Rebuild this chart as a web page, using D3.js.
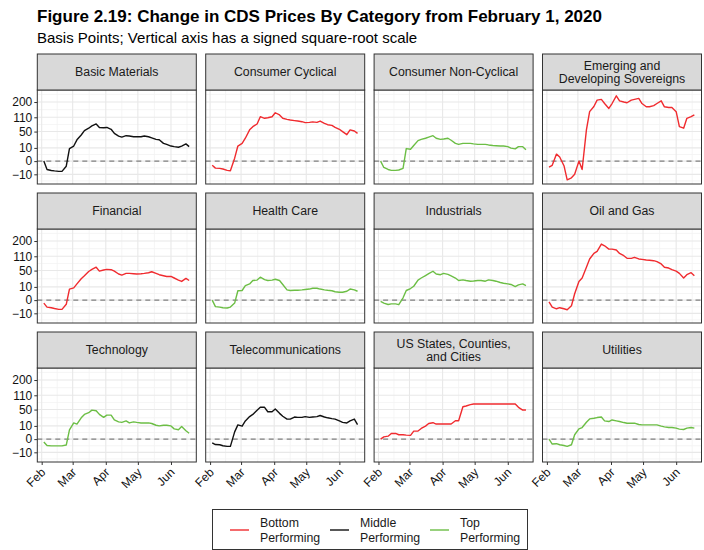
<!DOCTYPE html>
<html>
<head>
<meta charset="utf-8">
<script src="https://cdn.jsdelivr.net/npm/d3@7"></script>
<style>
  body { margin: 0; background: #fff; }
  svg { display: block; font-family: "Liberation Sans", Arial, sans-serif; }
</style>
</head>
<body>
<div id="chart"></div>
<script>
// CDS price change by category, small multiples on a signed sqrt scale.

const categories = [
  'Basic Materials', 'Consumer Cyclical', 'Consumer Non-Cyclical', 'Emerging and\nDeveloping Sovereigns',
  'Financial', 'Health Care', 'Industrials', 'Oil and Gas',
  'Technology', 'Telecommunications', 'US States, Counties,\nand Cities', 'Utilities'
];
const performance = [
  'Middle', 'Bottom', 'Top', 'Bottom',
  'Bottom', 'Top', 'Top', 'Bottom',
  'Top', 'Middle', 'Bottom', 'Top'
];

const dates = [
  '2020-02-03', '2020-02-06', '2020-02-10', '2020-02-13', '2020-02-17', '2020-02-20', '2020-02-24', '2020-02-27',
  '2020-03-02', '2020-03-05', '2020-03-09', '2020-03-12', '2020-03-16', '2020-03-19', '2020-03-23', '2020-03-26', '2020-03-30',
  '2020-04-02', '2020-04-06', '2020-04-09', '2020-04-13', '2020-04-16', '2020-04-20', '2020-04-23', '2020-04-27', '2020-04-30',
  '2020-05-04', '2020-05-07', '2020-05-11', '2020-05-14', '2020-05-18', '2020-05-21', '2020-05-25', '2020-05-28',
  '2020-06-01', '2020-06-04', '2020-06-08', '2020-06-11', '2020-06-15', '2020-06-18'
];

// basis points change since Feb 1
const basicMaterials = [0, -4, -5, -5.5, -6, -6, -1.5, 9, 13, 26, 39, 53, 62, 71, 79, 65, 64, 65, 58, 44, 36, 33, 37, 36, 34, 34, 34, 36, 34, 31, 27, 26, 18, 16, 13, 12, 11, 13, 17, 12];
const consumerCyclical = [-1, -2.8, -3, -3.6, -4.9, -5.3, 0.5, 13, 18, 30, 56, 68, 79, 113, 105, 108, 113, 134, 122, 105, 100, 97, 94, 92, 89, 85, 86, 88, 86, 92, 82, 76, 73, 65, 58, 50, 40, 56, 52, 44];
const consumerNonCyclical = [0, -2.3, -4, -4.9, -4.9, -4.5, -3, 9, 8, 14, 24, 27, 30, 33, 37, 30, 27, 28, 30, 25, 18, 16, 18, 18, 18, 17, 16, 16, 16, 15, 14, 13.5, 13, 13, 12, 9.6, 8.6, 12, 12, 7.5];
const emergingSovereigns = [-2, -1, 2.8, 1, -1.2, -20, -16, -10, 0, -4, 56, 140, 171, 213, 218, 190, 159, 190, 244, 208, 200, 195, 213, 218, 225, 190, 169, 169, 176, 190, 208, 169, 165, 165, 140, 68, 62, 105, 113, 122];
const financial = [-0.5, -2.8, -3.3, -4, -4.9, -4.9, -1, 7, 8.5, 15, 26, 34, 47, 54, 62, 48, 52, 54, 53, 48, 39, 36, 41, 41, 40, 39, 40, 41, 43, 46, 41, 37, 34, 32, 32, 28, 23, 20, 27, 22];
const healthCare = [0, -2.4, -2.8, -3.3, -3.6, -2.8, -0.5, 5, 5.3, 12, 15, 22, 23, 30, 24, 22, 23, 25, 22, 14, 6, 5.3, 5.5, 5.5, 6, 6.5, 7, 8, 8, 7, 6, 5.5, 5, 4, 3.5, 3.5, 4.5, 7, 6, 4.5];
const industrials = [-0.1, -0.5, -1.1, -0.8, -0.8, -1.2, 0.3, 5.3, 7.7, 11, 23, 28, 34.5, 40, 47.7, 39, 37, 41, 38, 33.6, 28, 22, 23.4, 22, 20.5, 21, 22, 22, 20.5, 23.4, 22, 20.5, 17.7, 16.4, 15, 14, 10.6, 13.3, 15, 12.2];
const oilAndGas = [-0.2, -2.8, -4.3, -3.3, -4.3, -5.3, -1.8, 2.3, 20, 28, 62, 97, 125, 136, 180, 169, 149, 149, 144, 125, 113, 100, 100, 105, 97, 95, 92, 91, 89, 85, 75, 62, 59, 53, 48, 41, 28, 37, 43, 34];
const technology = [-0.5, -2.3, -2.6, -2.6, -2.6, -2.6, -2, 5, 15, 13, 26, 35, 40, 48, 46, 35, 27, 33, 33, 21, 17, 16, 19, 15, 17, 16, 15, 15, 15, 14, 11, 10, 11, 11, 10, 6, 5, 9, 4, 2];
const telecommunications = [-0.8, -1.7, -1.8, -2.5, -3, -3, 3, 11.6, 9.6, 19, 29, 35, 48, 58, 58, 43, 43, 52, 38, 30, 23, 23, 28, 27, 27, 29, 27, 28, 29, 32, 28, 26, 24, 23, 19, 16, 15, 19, 23, 12];
const usStates = [0, 0.3, 0.5, 1.85, 1.85, 1.1, 1.1, 0.9, 0.8, 3.7, 3.7, 6.5, 9.7, 14, 15.4, 13, 13, 13, 13, 13, 19.4, 19.4, 60, 62.7, 68, 70.6, 70.6, 70.6, 70.6, 70.6, 70.6, 70.6, 70.6, 70.6, 70.6, 70.6, 70.6, 58, 48.4, 48.4];
const utilities = [0, -1.4, -1.2, -1.8, -2.3, -3, -1.8, 1.1, 6, 7.7, 16.4, 23.4, 25, 26.6, 28, 19, 17.7, 21, 19, 17.7, 15.7, 14.5, 14.5, 14.5, 12.2, 11.6, 11.6, 11.6, 11.6, 11.6, 9.6, 8.6, 7.7, 7.7, 6.9, 5.7, 5.3, 6.9, 7.7, 6.9];

const seriesValues = [
  basicMaterials, consumerCyclical, consumerNonCyclical, emergingSovereigns,
  financial, healthCare, industrials, oilAndGas,
  technology, telecommunications, usStates, utilities
];

const yTicks = [-10, 0, 10, 50, 110, 200];
const monthTicks = ['2020-02-01', '2020-03-01', '2020-04-01', '2020-05-01', '2020-06-01', '2020-07-01'];
const legendGroups = ['Bottom', 'Middle', 'Top'];
const legendLabels = ['Bottom\nPerforming', 'Middle\nPerforming', 'Top\nPerforming'];
const groupColor = { Bottom: '#f02b2f', Middle: '#111111', Top: '#6cbe45' };

// layout
const W = 704, H = 550;
const PLOT_LEFT = 37.3, COL_STEP = 168.4, PW = 159;
const STRIP_TOP = 54, ROW_STEP = 139, STRIP_H = 36, PH = 94;
const NCOL = 4;

const svg = d3.select('#chart').append('svg').attr('width', W).attr('height', H);

svg.append('text')
  .attr('x', 37).attr('y', 22)
  .attr('font-size', 17).attr('font-weight', 'bold').attr('fill', '#000')
  .text('Figure 2.19: Change in CDS Prices By Category from February 1, 2020');
svg.append('text')
  .attr('x', 37).attr('y', 43)
  .attr('font-size', 15).attr('fill', '#000')
  .text('Basis Points; Vertical axis has a signed square-root scale');

const parse = d3.utcParse('%Y-%m-%d');
const DAY = 864e5;
const feb1 = parse('2020-02-01');
const dateVals = dates.map(parse);
const months = monthTicks.map(parse);

const x = d3.scaleUtc()
  .domain([new Date(+feb1 - 4.1 * DAY), new Date(+feb1 + 144.7 * DAY)])
  .range([0, PW]);
// d3's sqrt scale is sign-preserving, which is exactly the signed sqrt transform
const y = d3.scaleSqrt().domain([-30.0, 289.7]).range([PH, 0]);

// minor breaks: midway between majors in transformed space (ggplot style)
const ssqrt = v => Math.sign(v) * Math.sqrt(Math.abs(v));
const unsq = t => Math.sign(t) * t * t;
const tMaj = yTicks.map(ssqrt);
const tExt = [tMaj[0] - (tMaj[1] - tMaj[0]), ...tMaj, tMaj[tMaj.length - 1] + (tMaj[tMaj.length - 1] - tMaj[tMaj.length - 2])];
const yMinor = d3.pairs(tExt).map(([a, b]) => unsq((a + b) / 2))
  .filter(v => y(v) >= 0 && y(v) <= PH);
const xMinor = d3.pairs(months).map(([a, b]) => new Date((+a + +b) / 2))
  .filter(d => x(d) >= 0 && x(d) <= PW);
const xMajor = months.filter(d => x(d) >= 0 && x(d) <= PW);

const line = d3.line().x(d => x(d.date)).y(d => y(d.v));

categories.forEach((cat, i) => {
  const col = i % NCOL, row = Math.floor(i / NCOL);
  const px = PLOT_LEFT + col * COL_STEP;
  const sy = STRIP_TOP + row * ROW_STEP;
  const py = sy + STRIP_H;
  const g = svg.append('g').attr('transform', `translate(${px},${py})`);

  g.append('rect').attr('width', PW).attr('height', PH).attr('fill', '#fff');

  g.selectAll('line.minor-y').data(yMinor).join('line')
    .attr('x1', 0).attr('x2', PW).attr('y1', d => y(d)).attr('y2', d => y(d))
    .attr('stroke', '#f2f2f2').attr('stroke-width', 0.8);
  g.selectAll('line.minor-x').data(xMinor).join('line')
    .attr('y1', 0).attr('y2', PH).attr('x1', d => x(d)).attr('x2', d => x(d))
    .attr('stroke', '#f2f2f2').attr('stroke-width', 0.8);
  g.append('g').selectAll('line').data(yTicks).join('line')
    .attr('x1', 0).attr('x2', PW).attr('y1', d => y(d)).attr('y2', d => y(d))
    .attr('stroke', '#e8e8e8').attr('stroke-width', 1.1);
  g.append('g').selectAll('line').data(xMajor).join('line')
    .attr('y1', 0).attr('y2', PH).attr('x1', d => x(d)).attr('x2', d => x(d))
    .attr('stroke', '#e8e8e8').attr('stroke-width', 1.1);

  g.append('line')
    .attr('x1', 0).attr('x2', PW).attr('y1', y(0)).attr('y2', y(0))
    .attr('stroke', '#808080').attr('stroke-width', 1.1).attr('stroke-dasharray', '5 4');

  const pts = seriesValues[i].map((v, k) => ({ date: dateVals[k], v }));
  g.append('path')
    .attr('d', line(pts))
    .attr('fill', 'none')
    .attr('stroke', groupColor[performance[i]])
    .attr('stroke-width', 1.4)
    .attr('stroke-linejoin', 'round');

  g.append('rect').attr('width', PW).attr('height', PH)
    .attr('fill', 'none').attr('stroke', '#333').attr('stroke-width', 1);

  // strip
  const strip = svg.append('g').attr('transform', `translate(${px},${sy})`);
  strip.append('rect').attr('width', PW).attr('height', STRIP_H)
    .attr('fill', '#d9d9d9').attr('stroke', '#333').attr('stroke-width', 1);
  const lines = cat.split('\n');
  const st = strip.append('text')
    .attr('text-anchor', 'middle').attr('font-size', 12.3).attr('fill', '#1a1a1a');
  lines.forEach((l, k) => {
    st.append('tspan')
      .attr('x', PW / 2)
      .attr('y', STRIP_H / 2 + 4.3 + (k - (lines.length - 1) / 2) * 12.5)
      .text(l);
  });

  if (col === 0) {
    const ya = g.append('g').call(d3.axisLeft(y).tickValues(yTicks).tickSize(3).tickPadding(2));
    ya.select('.domain').remove();
    ya.selectAll('line').attr('stroke', '#333');
    ya.selectAll('text').attr('font-size', 12).attr('fill', '#111')
      .attr('font-family', '"Liberation Sans", Arial, sans-serif');
  }
  if (row === 2) {
    const xa = g.append('g').attr('transform', `translate(0,${PH})`)
      .call(d3.axisBottom(x).tickValues(xMajor).tickFormat(d3.utcFormat('%b')).tickSize(3));
    xa.select('.domain').remove();
    xa.selectAll('line').attr('stroke', '#333');
    xa.selectAll('text')
      .attr('font-size', 12).attr('fill', '#111')
      .attr('font-family', '"Liberation Sans", Arial, sans-serif')
      .attr('x', 0).attr('y', 0).attr('dy', '0.71em')
      .attr('text-anchor', 'end')
      .attr('transform', 'translate(-2,5) rotate(-45)');
  }
});

// legend
const lg = svg.append('g');
lg.append('rect').attr('x', 212.5).attr('y', 509.5).attr('width', 315).attr('height', 40)
  .attr('fill', '#fff').attr('stroke', '#333').attr('stroke-width', 1);
legendGroups.forEach((grp, k) => {
  const kx = 230 + k * 100;
  lg.append('line').attr('x1', kx).attr('x2', kx + 19).attr('y1', 530).attr('y2', 530)
    .attr('stroke', groupColor[grp]).attr('stroke-width', 1.4);
  const t = lg.append('text').attr('font-size', 12.3).attr('fill', '#1a1a1a');
  legendLabels[k].split('\n').forEach((l, j) => {
    t.append('tspan').attr('x', kx + 30).attr('y', 527 + j * 14.5).text(l);
  });
});
</script>
</body>
</html>
